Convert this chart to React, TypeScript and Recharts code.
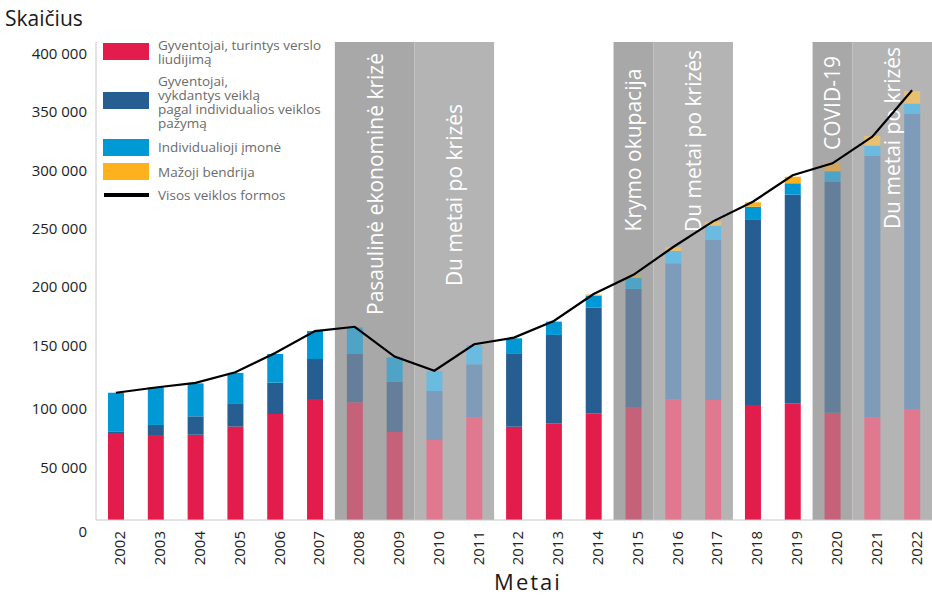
import React from 'react';
import { ComposedChart, Bar, Line, XAxis, YAxis, ReferenceArea, Legend, Cell } from 'recharts';

// ---- data ----
const years = ['2002', '2003', '2004', '2005', '2006', '2007', '2008', '2009', '2010', '2011', '2012', '2013', '2014', '2015', '2016', '2017', '2018', '2019', '2020', '2021', '2022'];
const liudijimas = [74500, 72000, 73000, 80000, 90800, 103600, 100800, 75400, 68500, 87600, 79900, 82800, 91400, 96200, 103400, 102800, 98500, 99900, 91900, 88000, 95100];
const pazyma = [1000, 9400, 15800, 20000, 26800, 34300, 41400, 43100, 42000, 45700, 62900, 75700, 90400, 101700, 116500, 137000, 159000, 178700, 197600, 223800, 252600];
const imone = [33500, 32200, 28200, 26000, 24600, 24000, 22800, 20800, 17100, 16600, 12800, 11400, 10300, 9600, 10500, 12300, 10800, 9800, 9200, 8800, 8900];
const bendrija = [0, 0, 0, 0, 0, 0, 0, 0, 0, 0, 0, 0, 1000, 2100, 3200, 3400, 3800, 5600, 7300, 8300, 10800];
const visos = [109000, 113500, 117500, 126500, 143000, 161800, 165500, 140000, 127800, 150500, 156200, 170500, 193500, 210000, 233800, 255800, 272600, 295300, 305500, 328300, 368000];

const yTicks = [0, 50000, 100000, 150000, 200000, 250000, 300000, 350000, 400000];

const periodStart = ['2008', '2010', '2015', '2016', '2020', '2021'];
const periodEnd = ['2009', '2011', '2015', '2017', '2020', '2022'];
const periodLabels = ['Pasaulinė ekonominė krizė', 'Du metai po krizės', 'Krymo okupacija', 'Du metai po krizės', 'COVID-19', 'Du metai po krizės'];
const periodKinds = ['crisis', 'after', 'crisis', 'after', 'crisis', 'after'];

const seriesKeys = ['liudijimas', 'pazyma', 'imone', 'bendrija'];
const seriesNames = ['Gyventojai, turintys verslo liudijimą', 'Gyventojai, vykdantys veiklą pagal individualios veiklos pažymą', 'Individualioji įmonė', 'Mažoji bendrija'];
const lineName = 'Visos veiklos formos';

// ---- styles ----
const FONT = '"Open Sans", "Noto Sans", sans-serif';
const palette: Record<string, string[]> = {
  none: ['#e21d4c', '#265e92', '#0099d6', '#fcb11d'],
  crisis: ['#c5627a', '#657f9a', '#4fa3c7', '#d2a65f'],
  after: ['#e07890', '#7e9cb9', '#6bbbe0', '#e8c070'],
};
const shadeFill: Record<string, string> = { crisis: '#a8a8a8', after: '#b4b4b4' };
// vertical centres of the rotated period captions
const captionCenterY = [184, 195, 150, 141, 103, 138];

const data = years.map((year, i) => ({
  year,
  liudijimas: liudijimas[i],
  pazyma: pazyma[i],
  imone: imone[i],
  bendrija: bendrija[i],
  visos: visos[i],
}));

const kindOfYear = years.map((y) => {
  const yi = years.indexOf(y);
  for (let p = 0; p < periodStart.length; p++) {
    if (yi >= years.indexOf(periodStart[p]) && yi <= years.indexOf(periodEnd[p])) return periodKinds[p];
  }
  return 'none';
});

const fmt = (n: number) => String(n).replace(/\B(?=(\d{3})+(?!\d))/g, ' ');

const YTick = (props: any) => {
  const { x, y, payload } = props;
  const v = payload.value;
  const dy = v === 0 ? 11 : v <= 100000 ? 5 : 0;
  return (
    <text x={x} y={y + dy} textAnchor="end" dominantBaseline="central" fontFamily={FONT} fontSize={15} fill="#222">
      {fmt(v)}
    </text>
  );
};

const XTick = (props: any) => {
  const { x, y, payload } = props;
  return (
    <text transform={`translate(${x + 4},${y}) rotate(-90)`} textAnchor="end" dy="0.36em" fontFamily={FONT} fontSize={15} fill="#222">
      {payload.value}
    </text>
  );
};

const PeriodCaption = (props: any) => {
  const { viewBox, text, cy } = props;
  if (!viewBox) return null;
  const cx = viewBox.x + viewBox.width / 2;
  return (
    <text x={cx} y={cy} transform={`rotate(-90, ${cx}, ${cy})`} textAnchor="middle" dominantBaseline="central" fontFamily={FONT} fontSize={21} fill="#ffffff">
      {text}
    </text>
  );
};

const legendLines = [
  ['Gyventojai, turintys verslo', 'liudijimą'],
  ['Gyventojai,', 'vykdantys veiklą', 'pagal individualios veiklos', 'pažymą'],
  [seriesNames[2]],
  [seriesNames[3]],
];
const swatchTop = [43, 92, 139, 163];
const textTop = [38, 74, 140, 165];

const LegendContent = () => (
  <div style={{ position: 'relative', width: 400, height: 220, fontFamily: FONT, fontSize: 13.5, color: '#6b6b6b' }}>
    {legendLines.map((lines, i) => (
      <React.Fragment key={i}>
        <div style={{ position: 'absolute', left: 103, top: swatchTop[i], width: 46, height: 17, background: palette.none[i] }} />
        <div style={{ position: 'absolute', left: 158, top: textTop[i], lineHeight: '14px', whiteSpace: 'nowrap' }}>
          {lines.map((l, j) => (
            <div key={j}>{l}</div>
          ))}
        </div>
      </React.Fragment>
    ))}
    <div style={{ position: 'absolute', left: 104, top: 192.5, width: 45, height: 4, background: '#000' }} />
    <div style={{ position: 'absolute', left: 158, top: 188, lineHeight: '14px', whiteSpace: 'nowrap' }}>{lineName}</div>
  </div>
);

export default function App() {
  return (
    <div style={{ position: 'absolute', left: 0, top: 0, width: 932, height: 596, overflow: 'hidden', background: '#fff' }}>
      <ComposedChart width={932} height={596} data={data} margin={{ top: 42, right: 0, bottom: 0, left: 0 }} barSize={16}>
        <XAxis
          dataKey="year"
          height={76}
          interval={0}
          tickLine={false}
          tickSize={0}
          tickMargin={11}
          axisLine={{ stroke: '#c8c8c8', strokeWidth: 1 }}
          tick={<XTick />}
          label={{
            content: (p: any) => {
              const vb = p.viewBox || { x: 96, width: 836 };
              return (
                <text x={vb.x + vb.width / 2 + 14} y={590} textAnchor="middle" fontFamily={FONT} fontSize={22} letterSpacing={2} fill="#1a1a1a">
                  Metai
                </text>
              );
            },
          }}
        />
        <YAxis
          width={96}
          domain={[0, 409400]}
          ticks={yTicks}
          interval={0}
          tickLine={false}
          tickSize={0}
          tickMargin={9}
          axisLine={{ stroke: '#c8c8c8', strokeWidth: 1 }}
          tick={<YTick />}
          label={{
            content: () => (
              <text x={5} y={26} fontFamily={FONT} fontSize={21} fill="#1a1a1a">
                Skaičius
              </text>
            ),
          }}
        />
        {periodStart.map((s, p) => (
          <ReferenceArea
            key={p}
            x1={s}
            x2={periodEnd[p]}
            fill={shadeFill[periodKinds[p]]}
            fillOpacity={1}
            stroke="none"
            ifOverflow="extendDomain"
            label={<PeriodCaption text={periodLabels[p]} cy={captionCenterY[p]} />}
          />
        ))}
        {seriesKeys.map((k, si) => (
          <Bar key={k} dataKey={k} name={seriesNames[si]} stackId="a" isAnimationActive={false} fill={palette.none[si]}>
            {years.map((y, yi) => (
              <Cell key={y} fill={palette[kindOfYear[yi]][si]} />
            ))}
          </Bar>
        ))}
        <Line dataKey="visos" name={lineName} type="linear" stroke="#000" strokeWidth={2.2} dot={false} activeDot={false} isAnimationActive={false} />
        <Legend layout="vertical" align="center" verticalAlign="middle" wrapperStyle={{ left: 0, top: 0, width: 400, height: 220 }} content={<LegendContent />} />
      </ComposedChart>
    </div>
  );
}
